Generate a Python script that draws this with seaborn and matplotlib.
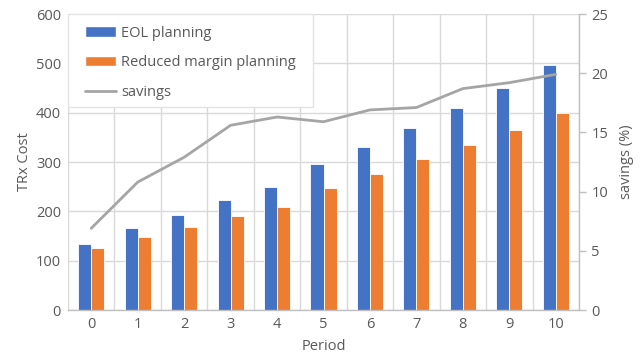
import matplotlib
matplotlib.use("Agg")
import matplotlib.pyplot as plt
from matplotlib.patches import Patch, Rectangle
from matplotlib.lines import Line2D
import numpy as np
import pandas as pd
import seaborn as sns

# Cost per planning period and the relative saving of reduced-margin planning
periods = list(range(11))
eol_cost = [134, 166, 192, 223, 249, 295, 331, 369, 410, 451, 496]
reduced_margin_cost = [125, 147, 168, 190, 209, 248, 276, 307, 334, 365, 399]
savings_pct = [6.9, 10.8, 12.9, 15.6, 16.3, 15.9, 16.9, 17.1, 18.7, 19.2, 19.9]

series_names = ["EOL planning", "Reduced margin planning"]
bar_colors = ["#4472C4", "#ED7D31"]
line_color = "#A5A5A5"
text_color = "#595959"
grid_color = "#D9D9D9"
axis_color = "#BFBFBF"
fs = 10.5

sns.set_theme(style="white")
plt.rcParams["font.family"] = ["Open Sans", "DejaVu Sans"]

df = pd.DataFrame({
    "Period": periods * 2,
    "cost": eol_cost + reduced_margin_cost,
    "plan": [series_names[0]] * len(periods) + [series_names[1]] * len(periods),
})

fig = plt.figure(figsize=(6.42, 3.6), dpi=100)
ax = fig.add_axes([68 / 642, 50 / 360, 511 / 642, 296 / 360])

sns.barplot(data=df, x="Period", y="cost", hue="plan", hue_order=series_names,
            palette=bar_colors, saturation=1, width=0.56, edgecolor="white",
            linewidth=0.6, legend=False, ax=ax)

ax.set_xlim(-0.5, 10.5)
ax.set_ylim(0, 600)
ax.set_yticks(np.arange(0, 601, 100))
ax.set_xticks(np.arange(-0.5, 11, 1), minor=True)
ax.set_axisbelow(True)
ax.yaxis.grid(True, which="major", color=grid_color, lw=1)
ax.xaxis.grid(True, which="minor", color=grid_color, lw=1)
ax.xaxis.grid(False, which="major")
for side in ["left", "top", "right"]:
    ax.spines[side].set_visible(False)
ax.spines["bottom"].set_color(axis_color)
ax.spines["bottom"].set_linewidth(1)
ax.tick_params(axis="both", which="both", length=0, labelsize=fs, labelcolor=text_color)
ax.tick_params(axis="y", pad=5)
ax.tick_params(axis="x", pad=5)
ax.set_xlabel("Period", fontsize=fs, color=text_color, labelpad=5)
ax.set_ylabel("TRx Cost", fontsize=fs, color=text_color, labelpad=3)

ax2 = ax.twinx()
sns.lineplot(x=periods, y=savings_pct, color=line_color, lw=2, ax=ax2)
ax2.set_ylim(0, 25)
ax2.set_yticks(np.arange(0, 26, 5))
ax2.grid(False)
for side in ["left", "top", "bottom"]:
    ax2.spines[side].set_visible(False)
ax2.spines["right"].set_color(axis_color)
ax2.spines["right"].set_linewidth(1)
ax2.tick_params(axis="y", length=5, width=1, color=axis_color, direction="out",
                labelsize=fs, labelcolor=text_color, pad=4)
ax2.set_ylabel("savings (%)", fontsize=fs, color=text_color, labelpad=8)
ax2.set_xlim(-0.5, 10.5)

# Legend panel in the upper-left corner of the plot area
ax2.add_patch(Rectangle((0, 0.686), 0.4795, 0.314, transform=ax2.transAxes,
                        facecolor="white", edgecolor="#E3E3E3", lw=1,
                        zorder=4, clip_on=False))

handles = [Patch(facecolor=bar_colors[0]), Patch(facecolor=bar_colors[1]),
           Line2D([0], [0], color=line_color, lw=2)]
labels = series_names + ["savings"]
leg = ax2.legend(handles, labels, loc="upper left", bbox_to_anchor=(0.034, 0.961),
                 borderaxespad=0, borderpad=0, frameon=False, fontsize=fs,
                 handlelength=2.1, handleheight=0.7, handletextpad=0.35,
                 labelspacing=1.0, labelcolor=text_color)
leg.set_zorder(5)

fig.savefig("out.png", dpi=100)
